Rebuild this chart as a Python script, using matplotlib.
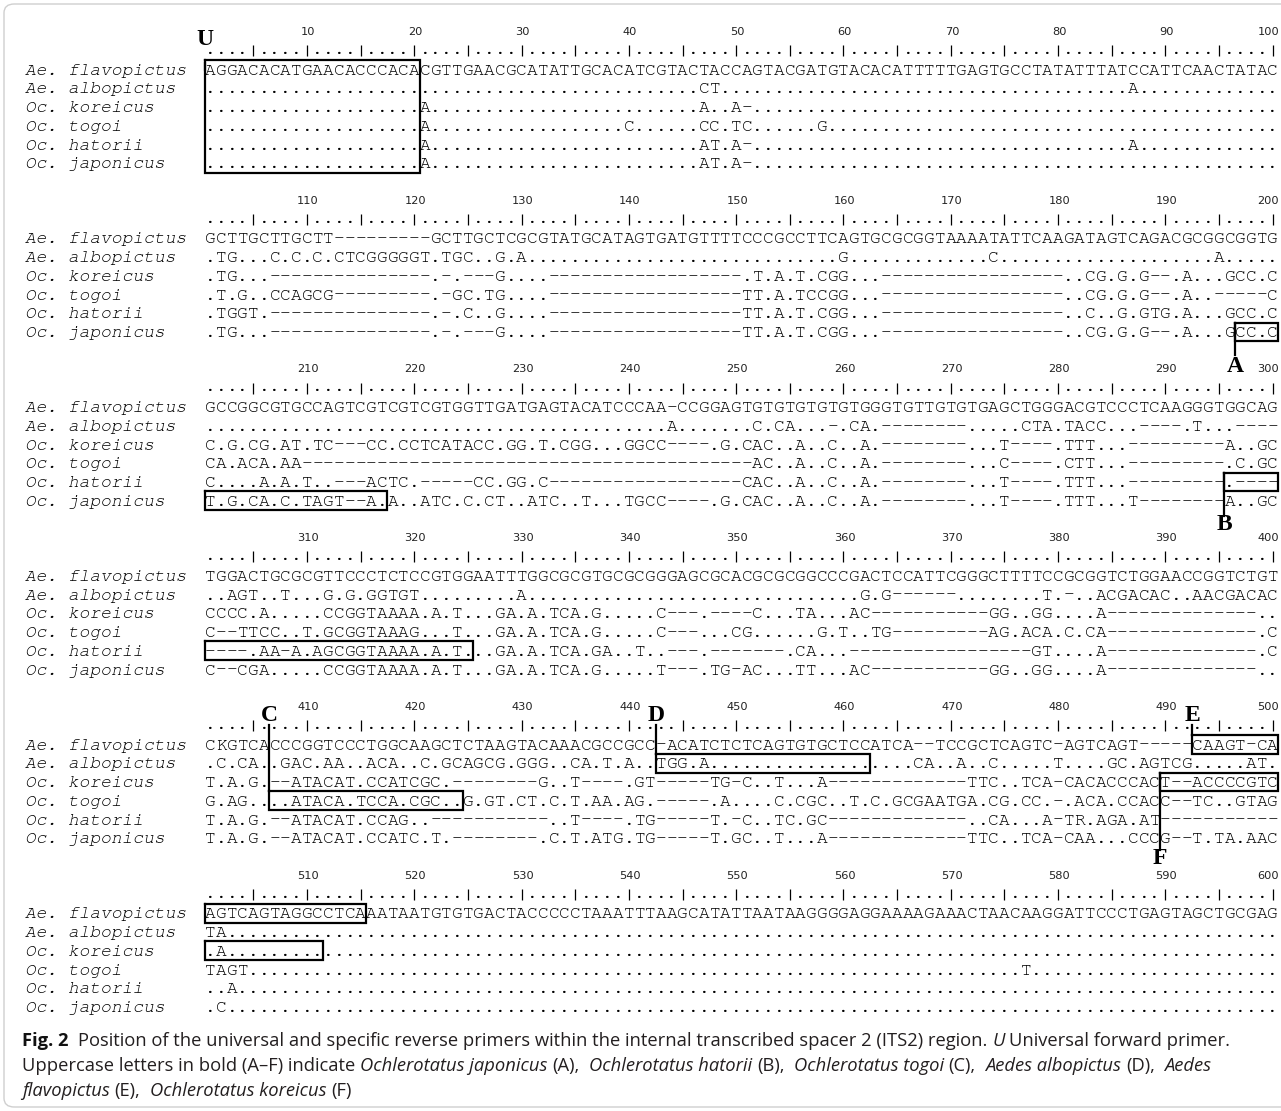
import matplotlib
matplotlib.use("Agg")
import matplotlib.pyplot as plt
from matplotlib.patches import FancyBboxPatch

# ---------------------------------------------------------------- data ----
SPECIES = ["Ae. flavopictus", "Ae. albopictus", "Oc. koreicus",
           "Oc. togoi", "Oc. hatorii", "Oc. japonicus"]

# ITS2 alignment, 100 columns per block (written in groups of ten)
BLOCK_1 = [
    "AGGACACATG AACACCCACA CGTTGAACGC ATATTGCACA TCGTACTACC AGTACGATGT ACACATTTTT GAGTGCCTAT ATTTATCCAT TCAACTATAC",
    ".......... .......... .......... .......... ......CT.. .......... .......... .......... ......A... ..........",
    ".......... .......... A......... .......... ......A..A -......... .......... .......... .......... ..........",
    ".......... .......... A......... .........C ......CC.T C......G.. .......... .......... .......... ..........",
    ".......... .......... A......... .......... ......AT.A -......... .......... .......... ......A... ..........",
    ".......... .......... A......... .......... ......AT.A -......... .......... .......... .......... ..........",
]
BLOCK_2 = [
    "GCTTGCTTGC TT-------- -GCTTGCTCG CGTATGCATA GTGATGTTTT CCCGCCTTCA GTGCGCGGTA AAATATTCAA GATAGTCAGA CGCGGCGGTG",
    ".TG...C.C. C.CTCGGGGG T.TGC..G.A .......... .......... .........G .......... ...C...... .......... ....A.....",
    ".TG...---- ---------- -.-.---G.. ..-------- ---------- .T.A.T.CGG ...------- ---------- ..CG.G.G-- .A...GCC.C",
    ".T.G..CCAG CG-------- -.-GC.TG.. ..-------- ---------- TT.A.TCCGG ...------- ---------- ..CG.G.G-- .A..-----C",
    ".TGGT.---- ---------- -.-.C..G.. ..-------- ---------- TT.A.T.CGG ...------- ---------- ..C..G.GTG .A...GCC.C",
    ".TG...---- ---------- -.-.---G.. ..-------- ---------- TT.A.T.CGG ...------- ---------- ..CG.G.G-- .A...GCC.C",
]
BLOCK_3 = [
    "GCCGGCGTGC CAGTCGTCGT CGTGGTTGAT GAGTACATCC CAA-CCGGAG TGTGTGTGTG TGGGTGTTGT GTGAGCTGGG ACGTCCCTCA AGGGTGGCAG",
    ".......... .......... .......... .......... ...A...... .C.CA...-. CA.------- -.....CTA. TACC...--- -.T...----",
    "C.G.CG.AT. TC---CC.CC TCATACC.GG .T.CGG...G GCC----.G. CAC..A..C. .A.------- -...T----. TTT...---- -----A..GC",
    "CA.ACA.AA- ---------- ---------- ---------- ---------- -AC..A..C. .A.------- -...C----. CTT...---- -----.C.GC",
    "C....A.A.T ..---ACTC. -----CC.GG .C-------- ---------- CAC..A..C. .A.------- -...T----. TTT...---- -----.----",
    "T.G.CA.C.T AGT--A.A.. ATC.C.CT.. ATC..T...T GCC----.G. CAC..A..C. .A.------- -...T----. TTT...T--- -----A..GC",
]
BLOCK_4 = [
    "TGGACTGCGC GTTCCCTCTC CGTGGAATTT GGCGCGTGCG CGGGAGCGCA CGCGCGGCCC GACTCCATTC GGGCTTTTCC GCGGTCTGGA ACCGGTCTGT",
    "..AGT..T.. .G.G.GGTGT .........A .......... .......... .......... .G.G------ ........T. -..ACGACAC ..AACGACAC",
    "CCCC.A.... .CCGGTAAAA .A.T...GA. A.TCA.G... ..C---.--- -C...TA... AC-------- ---GG..GG. ...A------ --------..",
    "C--TTCC..T .GCGGTAAAG ...T...GA. A.TCA.G... ..C---...C G......G.T ..TG------ ---AG.ACA. C.CA------ --------.C",
    "----.AA-A. AGCGGTAAAA .A.T...GA. A.TCA.GA.. T..---.--- ----.CA... ---------- -------GT. ...A------ --------.C",
    "C--CGA.... .CCGGTAAAA .A.T...GA. A.TCA.G... ..T---.TG- AC...TT... AC-------- ---GG..GG. ...A------ --------..",
]
BLOCK_5 = [
    "CKGTCACCCG GTCCCTGGCA AGCTCTAAGT ACAAACGCCG CC-ACATCTC TCAGTGTGCT CCATCA--TC CGCTCAGTC- AGTCAGT--- --CAAGT-CA",
    ".C.CA..GAC .AA..ACA.. C.GCAGCG.G GG..CA.T.A ..TGG.A... .......... ......CA.. A..C.....T ....GC.AGT CG.....AT.",
    "T.A.G.--AT ACAT.CCATC GC.------- -G..T----. GT-----TG- C..T...A-- ---------- -TTC..TCA- CACACCCACT --ACCCCGTC",
    "G.AG....AT ACA.TCCA.C GC..G.GT.C T.C.T.AA.A G.-----.A. ...C.CGC.. T.C.GCGAAT GA.CG.CC.- .ACA.CCACC --TC..GTAG",
    "T.A.G.--AT ACAT.CCAG. .--------- --..T----. TG-----T.- C..TC.GC-- ---------- -..CA...A- TR.AGA.AT- ----------",
    "T.A.G.--AT ACAT.CCATC .T.------- -.C.T.ATG. TG-----T.G C..T...A-- ---------- -TTC..TCA- CAA...CCCG --T.TA.AAC",
]
BLOCK_6 = [
    "AGTCAGTAGG CCTCAAATAA TGTGTGACTA CCCCCTAAAT TTAAGCATAT TAATAAGGGG AGGAAAAGAA ACTAACAAGG ATTCCCTGAG TAGCTGCGAG",
    "TA........ .......... .......... .......... .......... .......... .......... .......... .......... ..........",
    ".A........ .......... .......... .......... .......... .......... .......... .......... .......... ..........",
    "TAGT...... .......... .......... .......... .......... .......... .......... ......T... .......... ..........",
    "..A....... .......... .......... .......... .......... .......... .......... .......... .......... ..........",
    ".C........ .......... .......... .......... .......... .......... .......... .......... .......... ..........",
]
BLOCKS = [BLOCK_1, BLOCK_2, BLOCK_3, BLOCK_4, BLOCK_5, BLOCK_6]
BLOCK_WIDTH = 100

# primer boxes: (block, first row, last row, first column, last column)
PRIMER_BOXES = [
    (0, 0, 5, 1, 20),     # U
    (1, 5, 5, 97, 100),   # A
    (2, 5, 5, 1, 17),
    (2, 4, 4, 96, 100),   # B
    (3, 4, 4, 1, 25),
    (4, 3, 3, 7, 24),     # C
    (4, 1, 1, 43, 62),    # D
    (4, 0, 0, 93, 100),   # E
    (5, 0, 0, 1, 15),
    (4, 2, 2, 90, 100),   # F
    (5, 2, 2, 1, 11),
]
# primer letters: (letter, block, column boundary, label line, leader from, leader to)
PRIMER_LABELS = [
    ("U", 0, 0.5, 0.42, 1.15, 1.5),
    ("A", 2, 96.5, -0.15, -2.5, -0.75),
    ("B", 3, 95.5, -0.72, -3.5, -1.2),
    ("C", 4, 6.5, 0.45, 0.95, 4.5),
    ("D", 4, 42.5, 0.45, 0.95, 2.5),
    ("E", 4, 92.5, 0.45, 0.95, 1.5),
    ("F", 4, 89.5, 8.1, 3.5, 7.6),
]

CAPTION = [
    [("Fig. 2", "label"),
     ("  Position of the universal and specific reverse primers within the internal "
      "transcribed spacer 2 (ITS2) region. ", "normal"),
     ("U", "italic"), (" Universal forward primer.", "normal")],
    [("Uppercase letters in bold (A\u2013F) indicate ", "normal"),
     ("Ochlerotatus japonicus", "italic"), (" (A),  ", "normal"),
     ("Ochlerotatus hatorii", "italic"), (" (B),  ", "normal"),
     ("Ochlerotatus togoi", "italic"), (" (C),  ", "normal"),
     ("Aedes albopictus", "italic"), (" (D),  ", "normal"),
     ("Aedes", "italic")],
    [("flavopictus", "italic"), (" (E),  ", "normal"),
     ("Ochlerotatus koreicus", "italic"), (" (F)", "normal")],
]

# -------------------------------------------------------------- layout ----
W, H, DPI = 1281, 1111, 100
COL1_PX, COL_PITCH = 210.4, 10.73        # centre of column 1, column pitch
LINE0_PX, LINE_PITCH = 32.0, 18.75       # first number line, line pitch
LINES_PER_BLOCK = 9
NAME_COL = -16.3
MONO = ["Courier New", "Nimbus Mono PS", "FreeMono", "Liberation Mono"]
MONO_SIZE = 12.9
BASELINE = 0.27

fig = plt.figure(figsize=(W / DPI, H / DPI), dpi=DPI)
fig.patch.set_facecolor("white")

# light rounded frame around the figure (its right side runs off the page)
frame = FancyBboxPatch((4 / W, 4 / H), 1 + 20 / W, 1 - 8 / H,
                       boxstyle="round,pad=0,rounding_size=0.008",
                       transform=fig.transFigure, facecolor="none",
                       edgecolor="#cfcfcf", lw=1.0, clip_on=False)
fig.add_artist(frame)

ax = fig.add_axes([0, 0, 1, 1])
ax.set_xlim(1 - COL1_PX / COL_PITCH, 1 + (W - COL1_PX) / COL_PITCH)
ax.set_ylim((H - LINE0_PX) / LINE_PITCH, -LINE0_PX / LINE_PITCH)
ax.axis("off")

for b, block in enumerate(BLOCKS):
    top = b * LINES_PER_BLOCK
    # position numbers and ruler
    for c in range(1, BLOCK_WIDTH + 1):
        if c % 10 == 0:
            last = c == BLOCK_WIDTH
            ax.text(c + (0.6 if last else 0.1), top, str(b * BLOCK_WIDTH + c),
                    ha="right" if last else "center", va="center",
                    family="DejaVu Sans", fontsize=8.2, color="#222222")
        if c % 5 == 0:
            ax.vlines(c, top + 0.70, top + 1.28, color="black", lw=0.9)
        else:
            ax.text(c, top + 1 + 0.17, ".", ha="center", va="baseline",
                    family=MONO, fontsize=MONO_SIZE)
    # sequences
    for r, row in enumerate(block):
        y = top + 2 + r
        ax.text(NAME_COL, y + BASELINE, SPECIES[r], ha="left", va="baseline",
                family=MONO, style="italic", fontsize=MONO_SIZE)
        for i, ch in enumerate(row.replace(" ", "")):
            ax.text(i + 1, y + BASELINE, ch, ha="center", va="baseline",
                    family=MONO, fontsize=MONO_SIZE)

# primer boxes
for b, r0, r1, c0, c1 in PRIMER_BOXES:
    top = b * LINES_PER_BLOCK + 2
    x0, x1 = c0 - 0.5, c1 + 0.5
    y0, y1 = top + r0 - 0.5, top + r1 + 0.5
    ax.plot([x0, x1, x1, x0, x0], [y0, y0, y1, y1, y0], color="black",
            lw=1.6, solid_joinstyle="miter")

# primer letters with leader lines
for letter, b, col, dy, l0, l1 in PRIMER_LABELS:
    top = b * LINES_PER_BLOCK
    ax.text(col, top + dy, letter, ha="center", va="center",
            family="Liberation Serif", weight="bold", fontsize=17)
    shift = 0.5 if letter == "U" else 0.0
    ax.plot([col, col], [top + l0 + shift, top + l1 + shift],
            color="black", lw=1.6)

# caption
CAP_FONT, CAP_SIZE, CAP_X = "Open Sans", 13.2, 22
CAP_Y = [1046, 1071, 1096]
renderer = fig.canvas.get_renderer()


def text_width(s, **kw):
    t = fig.text(0, 0, s, family=CAP_FONT, size=CAP_SIZE, **kw)
    w = t.get_window_extent(renderer).width
    t.remove()
    return w


space_w = text_width("a a") - text_width("aa")
for line, y_px in zip(CAPTION, CAP_Y):
    x = CAP_X
    for piece, kind in line:
        props = dict(family=CAP_FONT, size=CAP_SIZE, color="#231f20")
        if kind == "italic":
            props["style"] = "italic"
        elif kind == "label":
            props["weight"] = "bold"
            props["color"] = "#111111"
        lead = len(piece) - len(piece.lstrip(" "))
        trail = len(piece) - len(piece.rstrip(" "))
        x += lead * space_w
        t = fig.text(x / W, 1 - y_px / H, piece.strip(" "), ha="left",
                     va="baseline", **props)
        x += t.get_window_extent(renderer).width + trail * space_w

fig.savefig("out.png", dpi=DPI, facecolor="white")
